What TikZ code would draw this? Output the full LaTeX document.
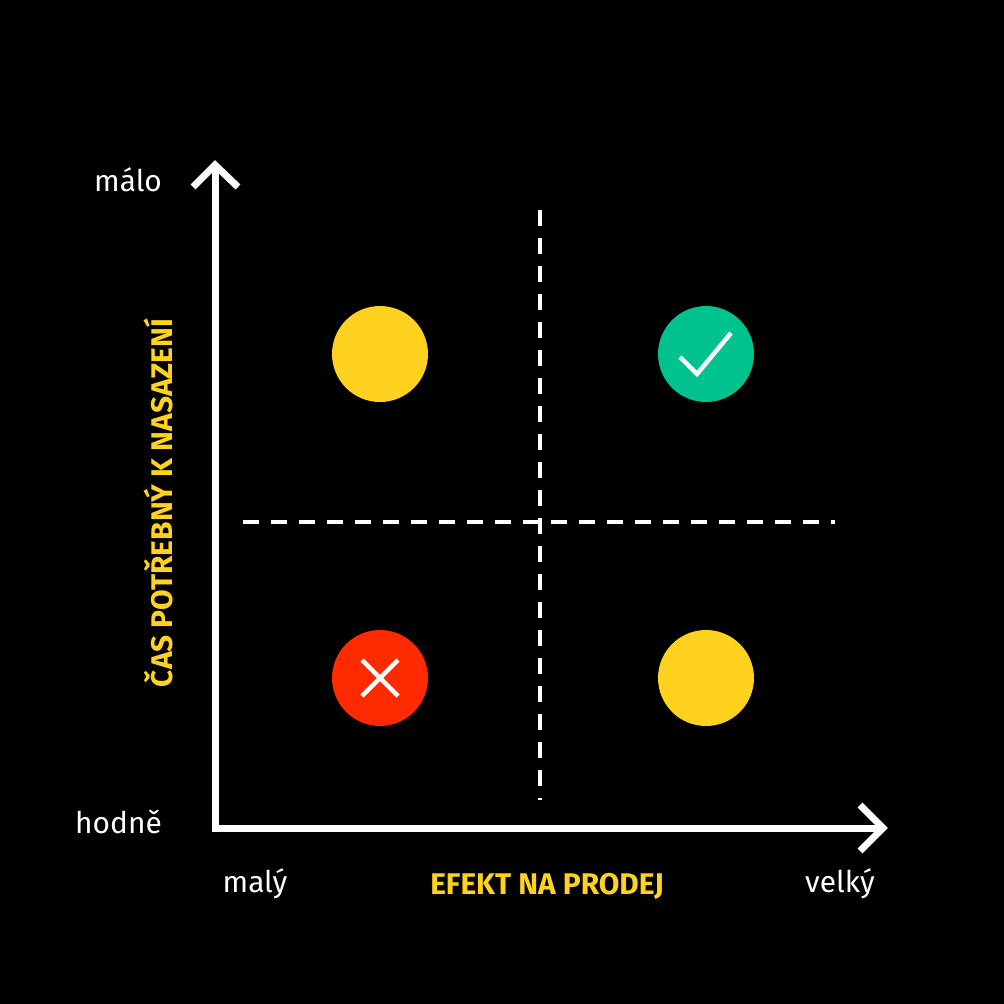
\documentclass[tikz,border=0pt]{standalone}
\usepackage{fontspec}
\setmainfont{Fira Sans}
\definecolor{mzluta}{HTML}{FFD21F}
\definecolor{mzelena}{HTML}{00C28E}
\definecolor{mcervena}{HTML}{FF2A00}
\tikzset{
  osa/.style={white, line width=0.14cm},
  delici/.style={white, line width=0.08cm, dash pattern=on 0.32cm off 0.24cm},
  bod/.style={circle, minimum size=1.92cm, inner sep=0pt},
  popis/.style={white, font=\fontsize{17}{20}\selectfont},
  nadpis/.style={mzluta, font=\fontsize{17}{20}\selectfont\bfseries},
}
\begin{document}
\begin{tikzpicture}[x=0.02cm, y=-0.02cm]
    \fill[black] (0, 0) rectangle (1004, 1004);

    % osy
    \coordinate (o) at (215, 828);
    \coordinate (yt) at (215, 165);
    \coordinate (xt) at (883, 828);
    \draw[osa] (yt) -- (o) -- (xt);
    \draw[osa] (193, 187) -- (yt) -- (238, 187);
    \draw[osa] (860, 805) -- (xt) -- (860, 851);

    % kvadranty
    \draw[delici] (540, 210) -- (540, 800);
    \draw[delici] (243, 522) -- (835, 522);

    % body
    \node[bod, fill=mzluta] (lh) at (380, 354) {};
    \node[bod, fill=mzelena] (ph) at (706, 354) {};
    \node[bod, fill=mcervena] (ld) at (380, 678) {};
    \node[bod, fill=mzluta] (pd) at (706, 678) {};

    \draw[white, line width=0.09cm] (680, 357) -- (697, 374) -- (731, 333);
    \draw[white, line width=0.09cm] (362, 660) -- (398, 696);
    \draw[white, line width=0.09cm] (398, 660) -- (362, 696);

    % popisky
    \node[popis, anchor=east] (malo) at (168, 180) {málo};
    \node[popis, anchor=east] (hodne) at (168, 822) {hodně};
    \node[popis] (maly) at (255, 884) {malý};
    \node[popis] (velky) at (840, 884) {velký};
    \node[nadpis] (efekt) at (547, 886) {EFEKT NA PRODEJ};
    \node[nadpis, rotate=90] (cas) at (158, 503) {ČAS POTŘEBNÝ K NASAZENÍ};
\end{tikzpicture}
\end{document}
